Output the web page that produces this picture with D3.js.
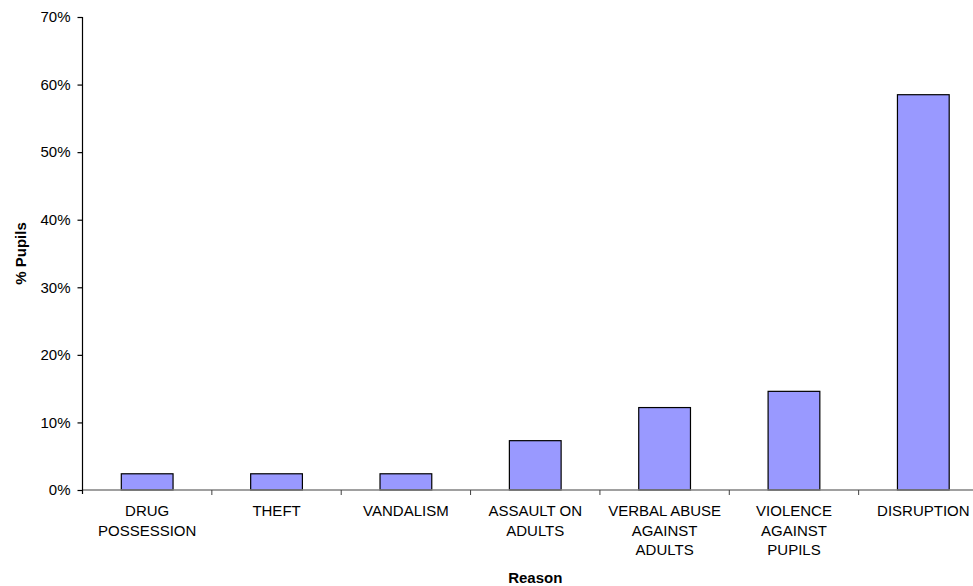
<!DOCTYPE html>
<html>
<head>
<meta charset="utf-8">
<script src="https://cdn.jsdelivr.net/npm/d3@7"></script>
<style>
  html, body { margin: 0; padding: 0; background: #fff; }
  svg { display: block; font-family: "Liberation Sans", Arial, sans-serif; }
</style>
</head>
<body>
<svg id="chart" width="973" height="586"></svg>
<script>
// Reasons for exclusion, share of pupils (%)
const categories = ["DRUG POSSESSION", "THEFT", "VANDALISM", "ASSAULT ON ADULTS",
  "VERBAL ABUSE AGAINST ADULTS", "VIOLENCE AGAINST PUPILS", "DISRUPTION"];
const categoryLines = [
  ["DRUG", "POSSESSION"],
  ["THEFT"],
  ["VANDALISM"],
  ["ASSAULT ON", "ADULTS"],
  ["VERBAL ABUSE", "AGAINST", "ADULTS"],
  ["VIOLENCE", "AGAINST", "PUPILS"],
  ["DISRUPTION"]
];
const percentPupils = [2.4, 2.4, 2.4, 7.3, 12.2, 14.6, 58.5];
const yTicks = [0, 10, 20, 30, 40, 50, 60, 70];
const xTitle = "Reason";
const yTitle = "% Pupils";

const svg = d3.select("#chart");
const plot = { left: 82.5, right: 988, top: 17, bottom: 490 };

const x = d3.scaleBand()
  .domain(categories)
  .range([plot.left, plot.right])
  .paddingInner(0.6)
  .paddingOuter(0.3);

const y = d3.scaleLinear()
  .domain([0, 70])
  .range([plot.bottom, plot.top]);

// Bars
svg.append("g")
  .selectAll("rect")
  .data(categories)
  .join("rect")
  .attr("x", d => x(d))
  .attr("y", (d, i) => y(percentPupils[i]))
  .attr("width", x.bandwidth())
  .attr("height", (d, i) => y(0) - y(percentPupils[i]))
  .attr("fill", "#9999ff")
  .attr("stroke", "#000")
  .attr("stroke-width", 1.2);

// Category axis line and separator ticks
svg.append("line")
  .attr("x1", plot.left).attr("x2", plot.right)
  .attr("y1", y(0)).attr("y2", y(0))
  .attr("stroke", "#808080").attr("stroke-width", 1.5);

const step = x.step();
svg.append("g")
  .selectAll("line")
  .data(categories.slice(1))
  .join("line")
  .attr("x1", d => x(d) - step * x.paddingInner() / 2)
  .attr("x2", d => x(d) - step * x.paddingInner() / 2)
  .attr("y1", y(0)).attr("y2", y(0) + 5)
  .attr("stroke", "#404040").attr("stroke-width", 1);

// Category labels (wrapped)
const labels = svg.append("g")
  .attr("font-size", 15)
  .attr("fill", "#000")
  .attr("text-anchor", "middle")
  .selectAll("text")
  .data(categories)
  .join("text")
  .attr("transform", d => `translate(${x(d) + x.bandwidth() / 2},516)`);
labels.selectAll("tspan")
  .data((d, i) => categoryLines[i])
  .join("tspan")
  .attr("x", 0)
  .attr("y", (d, j) => j * 19.7)
  .text(d => d);

// Value axis
const yAxis = svg.append("g")
  .attr("transform", `translate(${plot.left},0)`)
  .call(d3.axisLeft(y)
    .tickValues(yTicks)
    .tickFormat(d => d + "%")
    .tickSize(5)
    .tickSizeOuter(0)
    .tickPadding(7));
yAxis.select(".domain").remove();
yAxis.append("line")
  .attr("x1", 0).attr("x2", 0)
  .attr("y1", plot.top).attr("y2", plot.bottom + 4)
  .attr("stroke", "#000").attr("stroke-width", 1.2);
yAxis.selectAll(".tick line").attr("stroke", "#000").attr("stroke-width", 1.2);
yAxis.selectAll(".tick text")
  .attr("font-size", 15)
  .attr("font-family", "\"Liberation Sans\", Arial, sans-serif")
  .attr("fill", "#000");

// Axis titles
svg.append("text")
  .attr("x", (plot.left + plot.right) / 2)
  .attr("y", 583)
  .attr("text-anchor", "middle")
  .attr("font-size", 15)
  .attr("font-weight", "bold")
  .text(xTitle);

svg.append("text")
  .attr("transform", `translate(26,${(plot.top + plot.bottom) / 2}) rotate(-90)`)
  .attr("text-anchor", "middle")
  .attr("font-size", 15)
  .attr("font-weight", "bold")
  .text(yTitle);
</script>
</body>
</html>
